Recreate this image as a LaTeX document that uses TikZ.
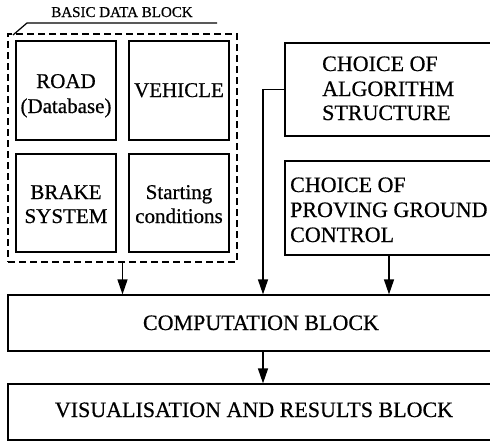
\documentclass[tikz,border=0pt]{standalone}
\usepackage{fontspec}
\setmainfont{Liberation Serif}[FakeBold=0.6]
\usetikzlibrary{arrows.meta}
\begin{document}
\begin{tikzpicture}[x=1pt,y=-1pt,
  blk/.style={draw,line width=1.2pt,rectangle,inner sep=0pt},
  dbox/.style={blk,dashed,dash pattern=on 7pt off 4pt},
  arr/.style={line width=1.2pt,-{Triangle[length=15pt,width=10pt]}},
  lead/.style={line width=1.2pt},
  big/.style={font=\fontsize{22}{25}\selectfont,inner sep=0pt},
  mid/.style={font=\fontsize{21}{25}\selectfont,inner sep=0pt,align=center},
  small/.style={font=\fontsize{15}{17}\selectfont,inner sep=0pt}]
\useasboundingbox (0,0) rectangle (490,442);
\clip (0,0) rectangle (490,442);

% basic data block
\node[dbox,minimum width=229pt,minimum height=228pt] (basic) at (122.5,148) {};
\node[blk,minimum width=100pt,minimum height=99pt] (road) at (66,90.5) {};
\node[blk,minimum width=100pt,minimum height=99pt] (vehicle) at (179,90.5) {};
\node[blk,minimum width=100pt,minimum height=98pt] (brake) at (66,203) {};
\node[blk,minimum width=100pt,minimum height=98pt] (start) at (179,203) {};

\node[mid,anchor=base] (roadT1) at (66,88) {ROAD};
\node[mid,anchor=base] (roadT2) at (66,113) {(Database)};
\node[mid,anchor=base] (vehT) at (179,97) {VEHICLE};
\node[mid,anchor=base] (brakeT1) at (66,199) {BRAKE};
\node[mid,anchor=base] (brakeT2) at (66,223) {SYSTEM};
\node[mid,anchor=base] (startT1) at (179,199) {Starting};
\node[mid,anchor=base] (startT2) at (179,223) {conditions};

\node[small,anchor=base] (basicT) at (122,17) {BASIC DATA BLOCK};
\coordinate (leadA) at (13,35);
\coordinate (leadB) at (27,23);
\coordinate (leadC) at (217,23);
\draw[lead] (leadA) -- (leadB) -- (leadC);

% right boxes
\node[blk,minimum width=215pt,minimum height=93pt] (algo) at (392.5,89.5) {};
\node[big,anchor=base west] (algoT1) at (322,71) {CHOICE OF};
\node[big,anchor=base west] (algoT2) at (322,96) {ALGORITHM};
\node[big,anchor=base west] (algoT3) at (322,120) {STRUCTURE};

\node[blk,minimum width=208pt,minimum height=94pt] (pgc) at (389,208) {};
\node[big,anchor=base west] (pgcT1) at (290,192) {CHOICE OF};
\node[big,anchor=base west] (pgcT2) at (290,217) {PROVING GROUND};
\node[big,anchor=base west] (pgcT3) at (290,242) {CONTROL};

% computation and visualisation
\node[blk,minimum width=510pt,minimum height=56pt] (comp) at (263,323) {};
\node[big,anchor=base] (compT) at (261,330) {COMPUTATION BLOCK};
\node[blk,minimum width=510pt,minimum height=56pt] (vis) at (263,412) {};
\node[big,anchor=base] (visT) at (254,417) {VISUALISATION AND RESULTS BLOCK};

% connectors
\draw[arr] (basic.south) -- (basic.south |- comp.north);
\draw[arr] (algo.west) -| (comp.north);
\draw[arr] (pgc.south) -- (pgc.south |- comp.north);
\draw[arr] (comp.south) -- (vis.north);
\end{tikzpicture}
\end{document}
